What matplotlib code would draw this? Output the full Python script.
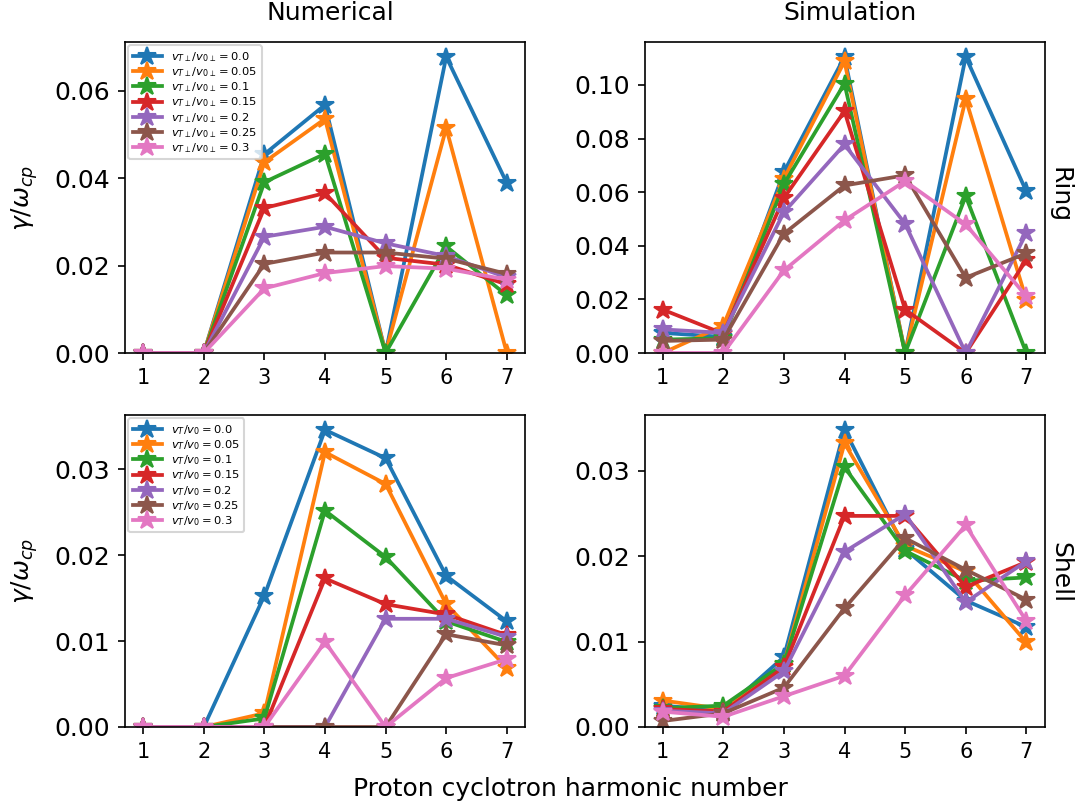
import matplotlib
matplotlib.use('Agg')
import matplotlib.pyplot as plt
import numpy as np

harmonics = [1, 2, 3, 4, 5, 6, 7]
ratios = ['0.0', '0.05', '0.1', '0.15', '0.2', '0.25', '0.3']

# Ring, numerical
ring_num = [
    [0, 0, 0.0455, 0.0568, 0, 0.0678, 0.0389],
    [0, 0, 0.0437, 0.0536, 0, 0.0515, 0],
    [0, 0, 0.0391, 0.0456, 0, 0.0244, 0.0132],
    [0, 0, 0.0332, 0.0366, 0.0218, 0.0202, 0.0157],
    [0, 0, 0.0266, 0.0289, 0.0251, 0.0222, 0.0173],
    [0, 0, 0.0204, 0.0230, 0.0230, 0.0216, 0.0181],
    [0, 0, 0.0148, 0.0183, 0.0199, 0.0193, 0.0168],
]

# Ring, simulation
ring_sim = [
    [0.0075, 0.0060, 0.0675, 0.1105, 0, 0.1105, 0.0603],
    [0, 0.0102, 0.0650, 0.1088, 0, 0.0948, 0.0198],
    [0.0050, 0.0055, 0.0630, 0.1005, 0, 0.0585, 0],
    [0.0162, 0.0072, 0.0578, 0.0902, 0.0162, 0, 0.0347],
    [0.0088, 0.0075, 0.0525, 0.0778, 0.0482, 0, 0.0447],
    [0.0045, 0.0050, 0.0445, 0.0625, 0.0663, 0.0281, 0.0372],
    [0, 0, 0.0308, 0.0495, 0.0641, 0.0480, 0.0212],
]

# Shell, numerical
shell_num = [
    [0, 0, 0.0153, 0.0346, 0.0313, 0.0176, 0.0123],
    [0, 0, 0.0016, 0.0320, 0.0283, 0.0143, 0.0069],
    [0, 0, 0.0010, 0.0252, 0.0198, 0.0123, 0.0099],
    [0, 0, 0, 0.0173, 0.0143, 0.0131, 0.0107],
    [0, 0, 0, 0, 0.0126, 0.0126, 0.0105],
    [0, 0, 0, 0, 0, 0.0108, 0.0095],
    [0, 0, 0, 0.0099, 0, 0.0057, 0.0079],
]

# Shell, simulation
shell_sim = [
    [0.0025, 0.0019, 0.0082, 0.0348, 0.0208, 0.0148, 0.0117],
    [0.0031, 0.0021, 0.0074, 0.0332, 0.0212, 0.0182, 0.0099],
    [0.0022, 0.0025, 0.0074, 0.0304, 0.0206, 0.0171, 0.0175],
    [0.0021, 0.0018, 0.0070, 0.0247, 0.0247, 0.0164, 0.0193],
    [0.0019, 0.0016, 0.0065, 0.0205, 0.0249, 0.0146, 0.0194],
    [0.0007, 0.0016, 0.0046, 0.0139, 0.0221, 0.0184, 0.0149],
    [0.0018, 0.0012, 0.0036, 0.0060, 0.0154, 0.0236, 0.0124],
]

fig = plt.figure(figsize=(1076 / 150, 808 / 150), dpi=150)
W, H = 1076, 808


def make_ax(x0, x1, y0, y1):
    return fig.add_axes([x0 / W, 1 - y1 / H, (x1 - x0) / W, (y1 - y0) / H])


ax_tl = make_ax(125, 525, 42, 353)
ax_tr = make_ax(644.5, 1044.5, 42, 353)
ax_bl = make_ax(125, 525, 415, 727)
ax_br = make_ax(644.5, 1044.5, 415, 727)

panels = [
    (ax_tl, ring_num, r'$v_{T\perp}/v_{0\perp} = {%s}$', True),
    (ax_tr, ring_sim, None, False),
    (ax_bl, shell_num, r'$v_T/v_0 = {%s}$', True),
    (ax_br, shell_sim, None, False),
]

for ax, data, lab, legend in panels:
    for i, series in enumerate(data):
        label = lab % ratios[i] if lab else None
        ax.plot(harmonics, series, marker='*', markersize=9, linewidth=1.8,
                color='C%d' % i, label=label)
    ax.set_ylim(bottom=0)
    ax.set_xticks(harmonics)
    ax.tick_params(axis='x', labelsize=10)
    ax.tick_params(axis='y', labelsize=12)
    if legend:
        ax.legend(loc='upper left', fontsize=5.5, handlelength=2.5,
                  borderaxespad=0.3, labelspacing=0.12, borderpad=0.4)

ax_tl.set_ylabel(r'$\gamma/\omega_{cp}$', fontsize=12, labelpad=7)
ax_bl.set_ylabel(r'$\gamma/\omega_{cp}$', fontsize=12, labelpad=7)

fig.text(330 / W, 1 - 13 / H, 'Numerical', ha='center', va='center', fontsize=12)
fig.text(850 / W, 1 - 13 / H, 'Simulation', ha='center', va='center', fontsize=12)
fig.text(1060 / W, 1 - 195 / H, 'Ring', ha='center', va='center', rotation=-90, fontsize=12)
fig.text(1060 / W, 1 - 573 / H, 'Shell', ha='center', va='center', rotation=-90, fontsize=12)
fig.text(570 / W, 1 - 789 / H, 'Proton cyclotron harmonic number', ha='center', va='center', fontsize=12)

plt.savefig('out.png', dpi=150)
plt.close()
